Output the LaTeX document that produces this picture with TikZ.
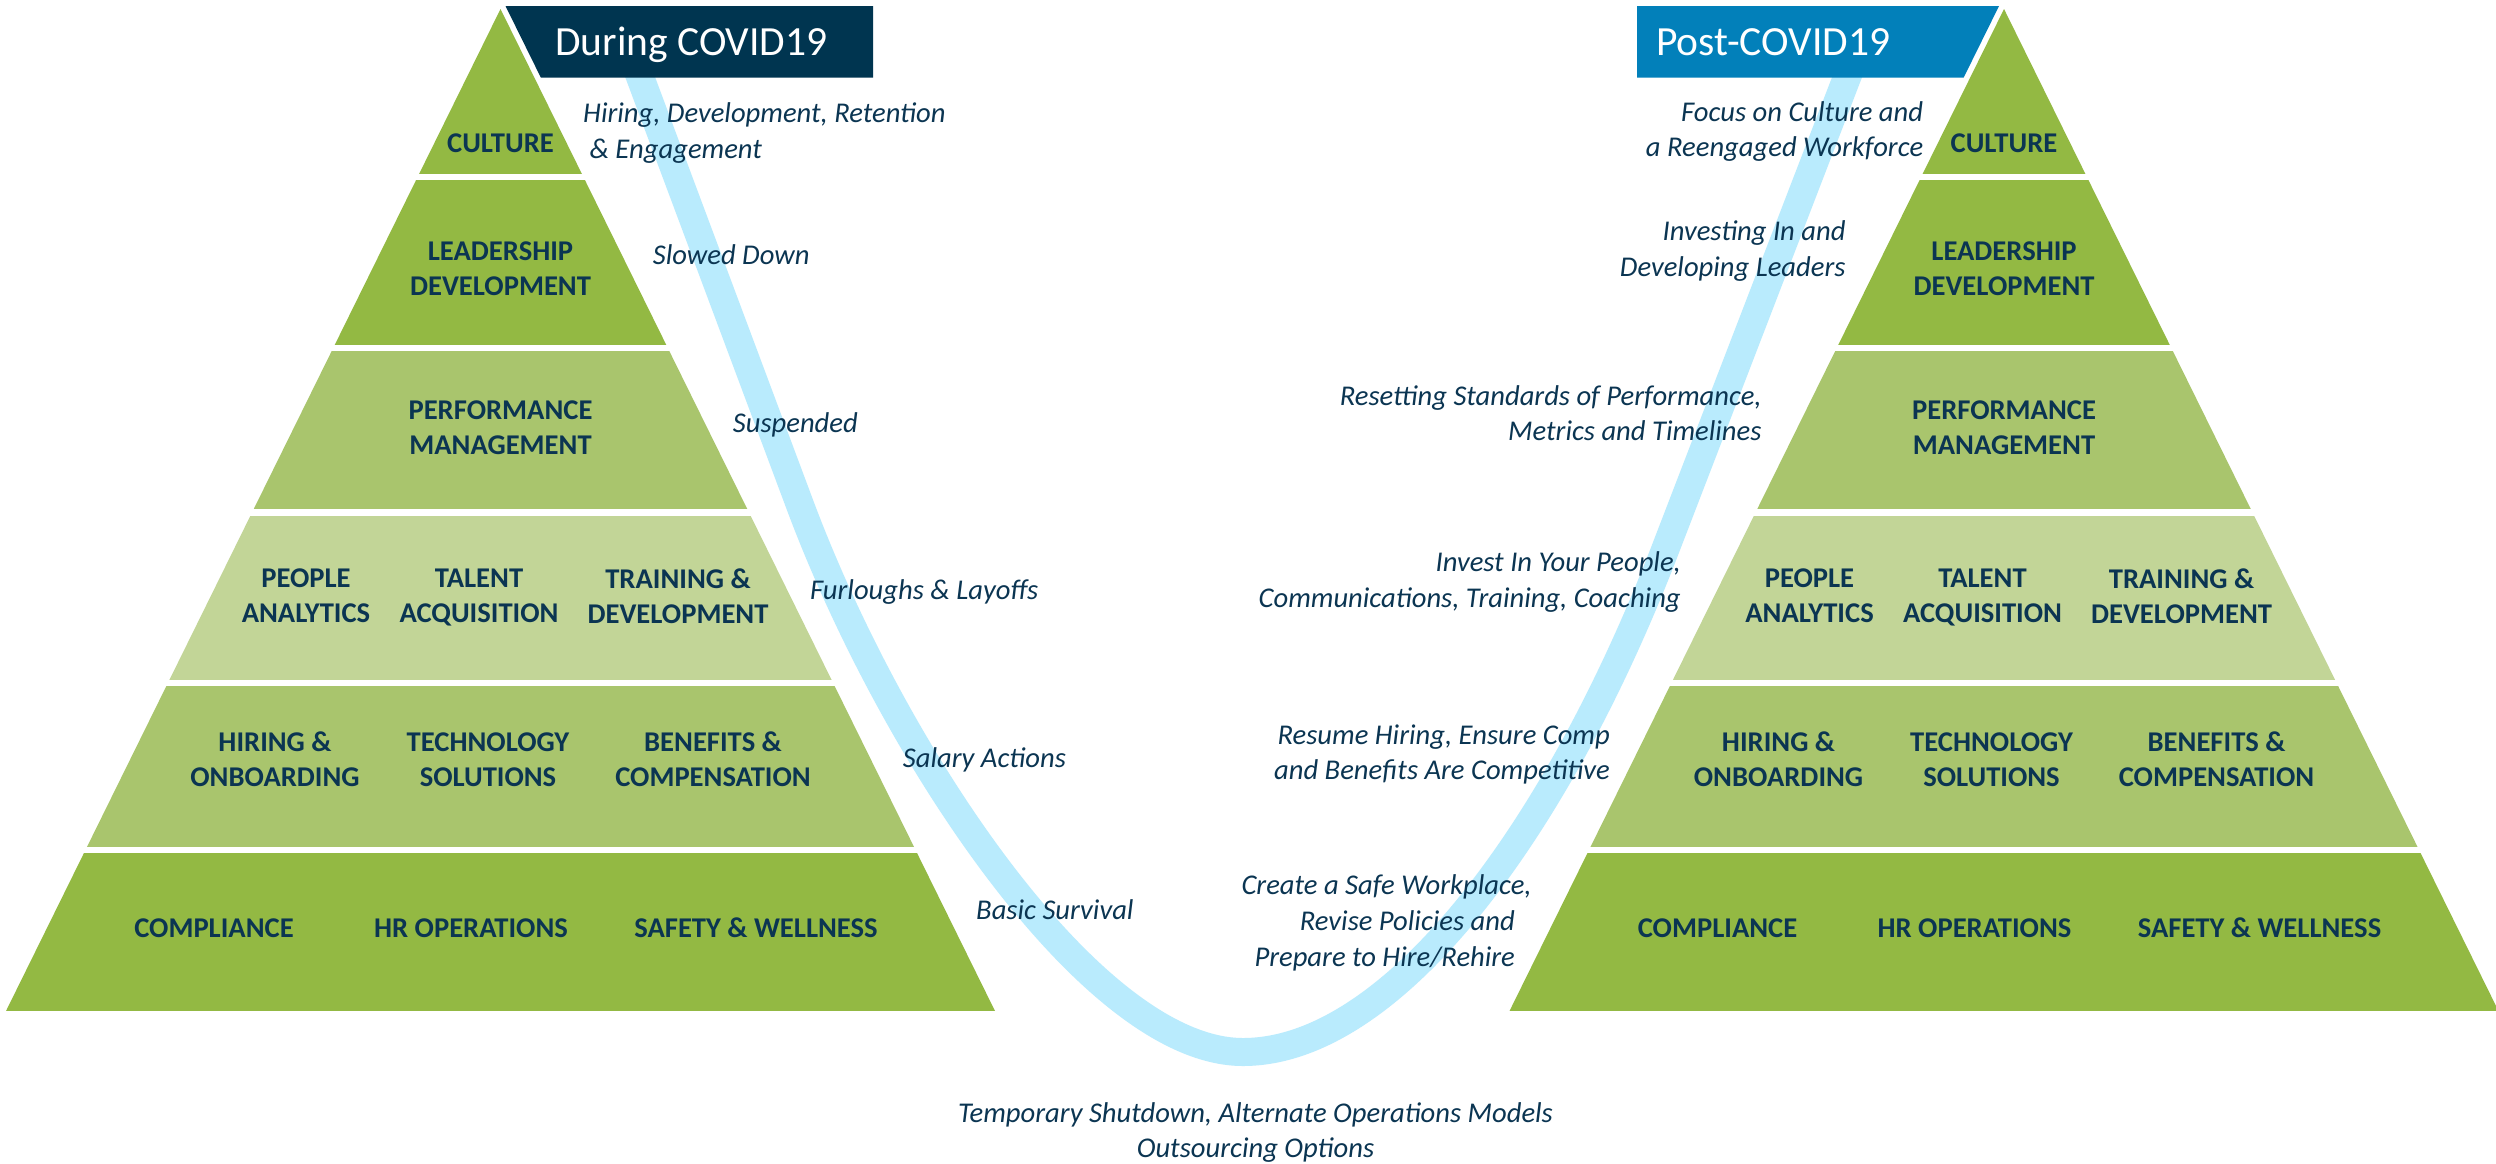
\documentclass[tikz,border=0pt]{standalone}
\usepackage{fontspec}
\setmainfont{Carlito}
\definecolor{navy}{HTML}{0B3552}
\definecolor{darkbox}{HTML}{003550}
\definecolor{bluebox}{HTML}{0280BA}
\definecolor{curve}{HTML}{B9EBFD}
\definecolor{gA}{HTML}{93B943}
\definecolor{gB}{HTML}{A9C56D}
\definecolor{gC}{HTML}{C2D597}
\begin{document}
\begin{tikzpicture}[x=1pt,y=-1pt,
  lbl/.style={font=\bfseries\fontsize{28.6}{34}\selectfont, text=navy, inner sep=0pt, anchor=base},
  noteL/.style={font=\itshape\fontsize{28.6}{34}\selectfont, text=navy, inner sep=0pt, anchor=base west},
  noteR/.style={font=\itshape\fontsize{28.6}{34}\selectfont, text=navy, inner sep=0pt, anchor=base east},
  noteC/.style={font=\itshape\fontsize{28.6}{34}\selectfont, text=navy, inner sep=0pt, anchor=base},
  ttl/.style={font=\fontsize{41.5}{48}\selectfont, text=white, inner sep=0pt, anchor=base west}]
\useasboundingbox (0,0) rectangle (2496,1163);
\fill[white] (0,0) rectangle (2496,1163);

% the light blue dip between the two phases
\draw[curve, line width=28pt] (630,50) -- (800,505)
  .. controls (893.5,755) and (1093,1052) .. (1243,1052)
  .. controls (1393,1052) and (1557,830) .. (1665,550) -- (1857.5,50);

% phase headers
\fill[darkbox] (505.5,6) -- (873,6) -- (873,77.7) -- (540.9,77.7) -- cycle;
\node[ttl] (during) at (555,55.7) {During COVID19};
\fill[bluebox] (1637,6) -- (1999,6) -- (1963.6,77.7) -- (1637,77.7) -- cycle;
\node[ttl] (post) at (1656,55.5) {Post-COVID19};

% the two HR pyramids
\foreach \s/\p in {0/L,1503.5/R}{
  \begin{scope}[xshift=\s pt]
    \begin{scope}
      \clip (500.5,9) -- (6,1011) -- (995,1011) -- cycle;
      \fill[gA] (0,0) rectangle (1001,174);
      \fill[gA] (0,180) rectangle (1001,345);
      \fill[gB] (0,351) rectangle (1001,509);
      \fill[gC] (0,515.5) rectangle (1001,680);
      \fill[gB] (0,686) rectangle (1001,847);
      \fill[gA] (0,853) rectangle (1001,1011);
    \end{scope}
    \node[lbl] (\p cult) at (500.5,152) {CULTURE};
    \node[lbl] (\p lead1) at (500.5,260) {LEADERSHIP};
    \node[lbl] (\p lead2) at (500.5,295) {DEVELOPMENT};
    \node[lbl] (\p perf1) at (500.5,419) {PERFORMANCE};
    \node[lbl] (\p perf2) at (500.5,454) {MANAGEMENT};
    \node[lbl] (\p peo1) at (306,587) {PEOPLE};
    \node[lbl] (\p peo2) at (306,622) {ANALYTICS};
    \node[lbl] (\p tal1) at (479,587) {TALENT};
    \node[lbl] (\p tal2) at (479,622) {ACQUISITION};
    \node[lbl] (\p trn1) at (678,588.5) {TRAINING \&};
    \node[lbl] (\p trn2) at (678,623.5) {DEVELOPMENT};
    \node[lbl] (\p hir1) at (275,751) {HIRING \&};
    \node[lbl] (\p hir2) at (275,786) {ONBOARDING};
    \node[lbl] (\p tec1) at (488,751) {TECHNOLOGY};
    \node[lbl] (\p tec2) at (488,786) {SOLUTIONS};
    \node[lbl] (\p ben1) at (713,751) {BENEFITS \&};
    \node[lbl] (\p ben2) at (713,786) {COMPENSATION};
    \node[lbl] (\p comp) at (214,937) {COMPLIANCE};
    \node[lbl] (\p hrop) at (471,937) {HR OPERATIONS};
    \node[lbl] (\p safe) at (756,937) {SAFETY \& WELLNESS};
  \end{scope}
}

% during COVID19 notes
\node[noteL] (d1a) at (583,122.7) {Hiring, Development, Retention};
\node[noteL] (d1b) at (589.3,158.3) {\& Engagement};
\node[noteL] (d2) at (652.7,264.3) {Slowed Down};
\node[noteL] (d3) at (732.7,432.7) {Suspended};
\node[noteL] (d4) at (810,599) {Furloughs \& Layoffs};
\node[noteL] (d5) at (902.7,767.7) {Salary Actions};
\node[noteL] (d6) at (976,919.3) {Basic Survival};

% bottom of the dip
\node[noteC] (low1) at (1255.5,1122.3) {Temporary Shutdown, Alternate Operations Models};
\node[noteC] (low2) at (1255.5,1157.3) {Outsourcing Options};

% post COVID19 notes
\node[noteR] (p1a) at (1923.3,121.7) {Focus on Culture and};
\node[noteR] (p1b) at (1923.3,156.7) {a Reengaged Workforce};
\node[noteR] (p2a) at (1845.7,240) {Investing In and};
\node[noteR] (p2b) at (1845.7,276) {Developing Leaders};
\node[noteR] (p3a) at (1761.7,405) {Resetting Standards of Performance,};
\node[noteR] (p3b) at (1761.7,440) {Metrics and Timelines};
\node[noteR] (p4a) at (1681,571.7) {Invest In Your People,};
\node[noteR] (p4b) at (1681,607.7) {Communications, Training, Coaching};
\node[noteR] (p5a) at (1610,744) {Resume Hiring, Ensure Comp};
\node[noteR] (p5b) at (1610,779.3) {and Benefits Are Competitive};
\node[noteR] (p6a) at (1531.7,894.3) {Create a Safe Workplace,};
\node[noteR] (p6b) at (1515,930.7) {Revise Policies and};
\node[noteR] (p6c) at (1515,966) {Prepare to Hire/Rehire};
\end{tikzpicture}
\end{document}
